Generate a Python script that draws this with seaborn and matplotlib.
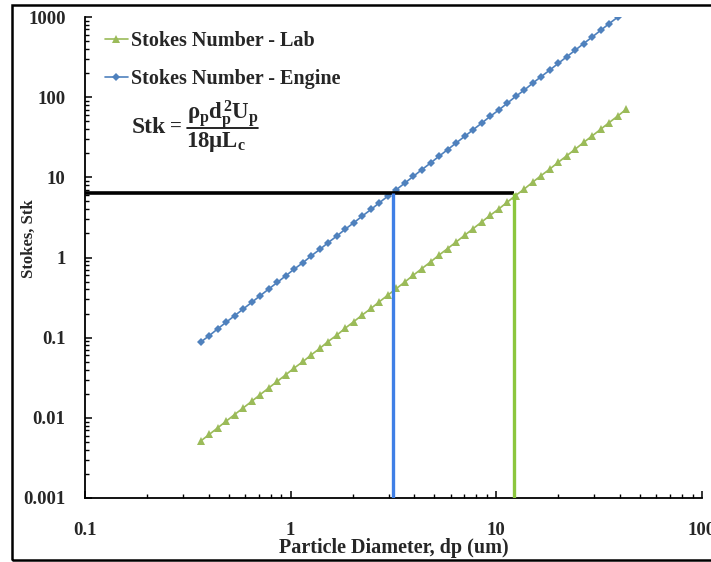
import matplotlib
matplotlib.use("Agg")
import matplotlib.pyplot as plt
import matplotlib.ticker as mticker
from matplotlib.patches import Rectangle
from matplotlib.lines import Line2D
import pandas as pd
import seaborn as sns

# ---------------- data ----------------
dp_engine = [0.365, 0.402, 0.442, 0.486, 0.534, 0.588, 0.647, 0.711, 0.782, 0.861,
             0.947, 1.04, 1.15, 1.26, 1.39, 1.52, 1.68, 1.84, 2.03, 2.23,
             2.46, 2.70, 2.97, 3.27, 3.60, 3.95, 4.35, 4.79, 5.26, 5.79,
             6.37, 7.01, 7.71, 8.48, 9.32, 10.3, 11.3, 12.4, 13.7, 15.0,
             16.5, 18.2, 20.0, 22.0, 24.2, 26.6, 29.3, 32.2, 35.4, 39.0]
stk_engine = [0.0879, 0.106, 0.129, 0.156, 0.188, 0.228, 0.276, 0.334, 0.404, 0.489,
              0.592, 0.716, 0.866, 1.05, 1.27, 1.53, 1.86, 2.25, 2.72, 3.29,
              3.98, 4.82, 5.83, 7.05, 8.53, 10.3, 12.5, 15.1, 18.3, 22.1,
              26.8, 32.4, 39.2, 47.4, 57.4, 69.4, 84.0, 102, 123, 149,
              180, 218, 264, 319, 386, 467, 565, 684, 828, 1000]
dp_lab = [0.365, 0.402, 0.442, 0.486, 0.534, 0.588, 0.647, 0.711, 0.782, 0.861,
          0.947, 1.04, 1.15, 1.26, 1.39, 1.52, 1.68, 1.84, 2.03, 2.23,
          2.46, 2.70, 2.97, 3.27, 3.60, 3.95, 4.35, 4.79, 5.26, 5.79,
          6.37, 7.01, 7.71, 8.48, 9.32, 10.3, 11.3, 12.4, 13.7, 15.0,
          16.5, 18.2, 20.0, 22.0, 24.2, 26.6, 29.3, 32.2, 35.4, 39.0, 42.8]
stk_lab = [0.00513, 0.00621, 0.00751, 0.00909, 0.0110, 0.0133, 0.0161, 0.0195, 0.0236, 0.0285,
           0.0345, 0.0418, 0.0505, 0.0611, 0.0740, 0.0895, 0.108, 0.131, 0.159, 0.192,
           0.232, 0.281, 0.340, 0.411, 0.498, 0.602, 0.729, 0.882, 1.07, 1.29,
           1.56, 1.89, 2.29, 2.77, 3.35, 4.05, 4.90, 5.93, 7.18, 8.68,
           10.5, 12.7, 15.4, 18.6, 22.5, 27.3, 33.0, 39.9, 48.3, 58.4, 70.7]

series_names = ["Stokes Number - Lab", "Stokes Number - Engine"]

# reference (threshold) lines
stk_threshold = 6.4
dp_engine_cut = 3.13
dp_lab_cut = 12.2

x_ticks = [0.1, 1, 10, 100]
x_tick_labels = ["0.1", "1", "10", "100"]
y_ticks = [0.001, 0.01, 0.1, 1, 10, 100, 1000]
y_tick_labels = ["0.001", "0.01", "0.1", "1", "10", "100", "1000"]

x_label = "Particle Diameter, dp (um)"
y_label = "Stokes, Stk"

formula_lhs = "Stk"
formula_eq = "="
formula_num = r"$\rho_p d_p^2 U_p$"
formula_den = r"$18\mu L_c$"

# ---------------- style ----------------
sns.set_theme(style="white")
plt.rcParams["font.family"] = ["Liberation Serif", "DejaVu Serif"]
plt.rcParams["font.weight"] = "bold"
plt.rcParams["mathtext.fontset"] = "custom"
plt.rcParams["mathtext.rm"] = "Liberation Serif:bold"
plt.rcParams["mathtext.it"] = "Liberation Serif:bold"
plt.rcParams["mathtext.bf"] = "Liberation Serif:bold"

W, H = 711, 562
fig = plt.figure(figsize=(W / 100, H / 100), dpi=100)
fig.patch.set_facecolor("white")
ax = fig.add_axes([85 / W, (H - 498) / H, (702 - 85) / W, (498 - 17) / H])

c_lab = "#9BBB59"
c_eng = "#4F81BD"

sns.lineplot(x=dp_lab, y=stk_lab, ax=ax, color=c_lab, marker="^", markersize=6,
             markeredgewidth=0, linewidth=1.2, label=series_names[0], zorder=3)
sns.lineplot(x=dp_engine, y=stk_engine, ax=ax, color=c_eng, marker="D", markersize=3.8,
             markeredgewidth=0, linewidth=1.2, label=series_names[1], zorder=3)

ax.set_xscale("log")
ax.set_yscale("log")
ax.set_xlim(0.1, 100)
ax.set_ylim(0.001, 1000)

# threshold lines
ax.plot([0.1, dp_lab_cut], [stk_threshold, stk_threshold], color="black", lw=2.6, zorder=4,
        solid_capstyle="butt")
ax.plot([dp_engine_cut, dp_engine_cut], [0.001, stk_threshold], color="#3F7FE6", lw=2.4,
        zorder=4, solid_capstyle="butt")
ax.plot([dp_lab_cut, dp_lab_cut], [0.001, stk_threshold], color="#8CC63E", lw=2.4,
        zorder=4, solid_capstyle="butt")

# axes styling
for s in ["top", "right"]:
    ax.spines[s].set_visible(False)
for s in ["left", "bottom"]:
    ax.spines[s].set_color("black")
    ax.spines[s].set_linewidth(1.3)
ax.grid(False)

ax.xaxis.set_major_locator(mticker.FixedLocator(x_ticks))
ax.xaxis.set_major_formatter(mticker.FixedFormatter(x_tick_labels))
ax.yaxis.set_major_locator(mticker.FixedLocator(y_ticks))
ax.yaxis.set_major_formatter(mticker.FixedFormatter(y_tick_labels))
ax.xaxis.set_minor_locator(mticker.LogLocator(base=10, subs=range(2, 10), numticks=20))
ax.yaxis.set_minor_locator(mticker.LogLocator(base=10, subs=range(2, 10), numticks=20))
ax.xaxis.set_minor_formatter(mticker.NullFormatter())
ax.yaxis.set_minor_formatter(mticker.NullFormatter())

ax.tick_params(axis="both", which="both", direction="in", color="black",
               bottom=True, left=True, top=False, right=False)
ax.tick_params(axis="both", which="major", length=5, width=1.1)
ax.tick_params(axis="both", which="minor", length=3, width=1.0)
ax.tick_params(axis="x", which="major", pad=17, labelsize=13.5)
ax.tick_params(axis="y", which="major", pad=14, labelsize=13.5)
for lbl in ax.get_xticklabels() + ax.get_yticklabels():
    lbl.set_fontweight("bold")

ax.set_xlabel(x_label, fontsize=14.5, fontweight="bold")
ax.set_ylabel(y_label, fontsize=12, fontweight="bold")
ax.xaxis.set_label_coords(0.5, -0.083)
ax.yaxis.set_label_coords(-0.078, 0.54)

# legend
leg = ax.legend(loc="upper left", bbox_to_anchor=(0.032, 0.970), frameon=False,
                fontsize=14.5, handlelength=1.15, handletextpad=0.15,
                labelspacing=0.88, borderaxespad=0, borderpad=0)
for t in leg.get_texts():
    t.set_fontweight("bold")

# formula (built from real text pieces, positioned in figure pixels)
def fx(px):
    return px / W

def fy(py):
    return 1 - py / H

fig.text(fx(132), fy(128), formula_lhs, ha="left", va="center", fontsize=17,
         fontweight="bold")
fig.text(fx(176), fy(127), formula_eq, ha="center", va="center", fontsize=15,
         fontweight="bold")
fig.text(fx(223), fy(115), formula_num, ha="center", va="center", fontsize=16.5)
fig.add_artist(Line2D([fx(187), fx(258)], [fy(127.5), fy(127.5)], color="black", lw=1.2,
                      transform=fig.transFigure))
fig.text(fx(216), fy(142), formula_den, ha="center", va="center", fontsize=16.5)

# outer border
fig.patches.append(Rectangle((12 / W, 2 / H), 1.0, (H - 7) / H, transform=fig.transFigure,
                             fill=False, edgecolor="black", linewidth=1.8, zorder=10))

fig.savefig("out.png", dpi=100, facecolor="white")
